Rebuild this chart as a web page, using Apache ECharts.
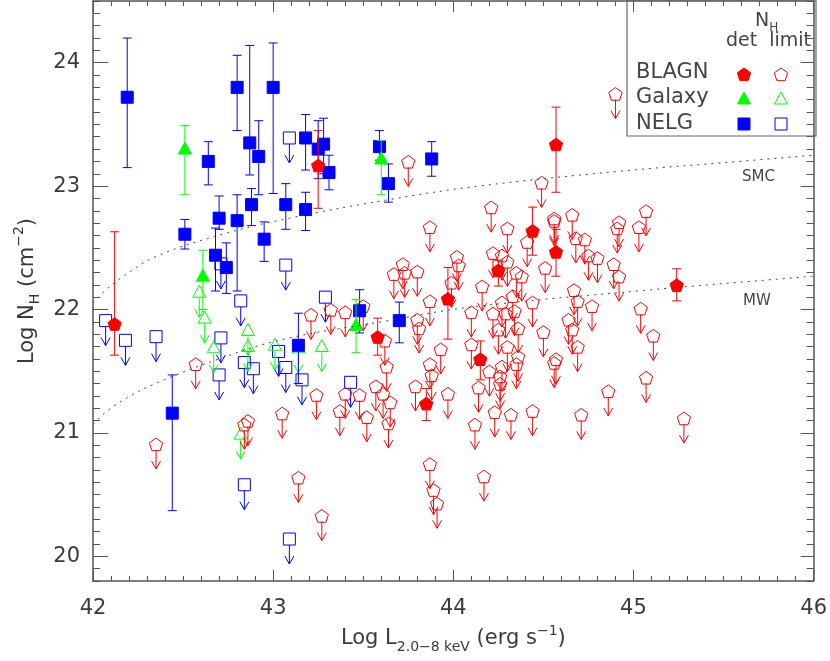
<!DOCTYPE html>
<html><head><meta charset="utf-8">
<script src="https://cdn.jsdelivr.net/npm/echarts@6/dist/echarts.min.js"></script>
<style>html,body{margin:0;padding:0;background:#fff}#c{width:830px;height:661px}</style>
</head><body><div id="c"></div>
<script>
// ---------- data ----------
// detections: [logL, logNH, low, high]
const blagnDet = [
  [42.12,21.885,21.63,22.63],[43.25,23.17,22.82,23.45],[43.58,21.78,21.63,21.93],
  [43.85,21.24,21.10,21.36],[43.97,22.09,21.76,22.34],[44.15,21.60,21.43,21.745],
  [44.25,22.32,22.19,22.40],[44.44,22.64,22.44,22.83],[44.57,23.34,22.95,23.64],
  [44.57,22.47,22.27,22.65],[45.24,22.20,22.07,22.33]
];
// upper limits: [logL, logNH]
const blagnLim = [
  [42.57,21.56],[42.35,20.91],[42.84,21.07],[42.86,21.10],[43.05,21.16],[43.75,23.20],
  [43.24,21.31],[43.40,21.32],[43.48,21.31],[43.37,21.18],[43.52,21.13],[43.57,21.38],
  [43.61,21.32],[43.65,21.25],[43.64,21.08],[43.79,21.38],[43.97,21.32],[44.12,21.07],
  [43.14,20.64],[43.27,20.33],[43.87,20.75],[43.89,20.54],[43.91,20.43],
  [43.87,22.67],[43.50,22.03],[43.21,21.96],[43.32,22.00],[43.40,21.98],[43.62,21.75],
  [43.63,21.54],[43.67,22.29],[43.72,22.37],[43.73,22.30],[43.80,22.31],[43.87,22.07],
  [43.80,21.92],[43.81,21.85],[43.93,21.68],[44.02,22.43],[44.03,22.36],[43.99,22.22],
  [44.10,21.98],[44.10,21.72],[43.87,21.56],[43.88,21.47],
  [44.90,23.75],[44.49,23.03],[44.21,22.83],[44.30,22.66],[44.56,22.74],[44.56,22.72],
  [44.66,22.77],[44.41,22.55],[44.68,22.58],[44.73,22.57],[44.92,22.71],[44.91,22.66],
  [45.03,22.67],[45.07,22.80],[44.22,22.46],[44.27,22.44],[44.30,22.39],[44.51,22.34],
  [44.75,22.44],[44.80,22.42],[44.89,22.37],[44.35,22.30],[44.38,22.27],[44.92,22.27],
  [44.16,22.19],[44.67,22.16],[44.69,22.07],[44.33,22.11],[44.27,22.06],[44.44,22.06],
  [44.22,21.97],[44.29,21.97],[44.34,21.99],[44.77,22.03],[45.04,22.01],[44.64,21.92],
  [44.25,21.84],[44.36,21.85],[44.66,21.84],[44.50,21.82],[44.30,21.70],[44.69,21.70],
  [44.36,21.62],[44.57,21.60],[44.56,21.57],[44.27,21.54],[44.35,21.56],[44.20,21.50],
  [44.26,21.46],[44.14,21.37],[44.26,21.40],[45.07,21.45],[44.86,21.34],[44.23,21.17],
  [44.32,21.15],[44.44,21.18],[44.71,21.15],[44.17,20.65],[45.11,21.79],[45.28,21.12]
];
const galDet = [
  [42.51,23.30,22.93,23.49],[42.61,22.27,22.00,22.48],[43.60,23.22,22.93,23.37],[43.46,21.87,21.65,22.08]
];
const galLim = [
  [42.59,22.14],[42.62,21.93],[42.86,21.83],[42.67,21.69],[42.86,21.70],[43.01,21.71],
  [43.14,21.69],[43.27,21.70],[42.82,20.99]
];
const nelgDet = [
  [42.19,23.72,23.15,24.20],[42.64,23.20,23.01,23.36],[42.80,23.80,23.45,24.06],
  [42.87,23.35,23.09,24.14],[42.92,23.24,22.93,23.53],[43.00,23.80,22.94,24.16],
  [43.18,23.39,23.13,23.58],[43.25,23.30,23.06,23.53],[43.28,23.34,23.10,23.55],
  [43.31,23.11,22.97,23.25],[43.59,23.32,23.21,23.45],[43.64,23.02,22.87,23.18],
  [43.88,23.22,23.08,23.36],[42.51,22.61,22.49,22.73],[42.70,22.74,22.65,22.92],
  [42.80,22.72,22.15,22.93],[42.88,22.85,22.68,22.98],[43.07,22.85,22.65,23.02],
  [42.95,22.57,22.39,22.71],[42.68,22.44,22.15,22.66],[42.74,22.34,22.13,22.54],
  [43.18,22.81,22.64,22.95],[43.48,21.99,21.81,22.16],[43.70,21.91,21.73,22.06],
  [43.14,21.71,21.40,21.97],[42.44,21.16,20.37,21.47]
];
const nelgLim = [
  [42.07,21.91],[42.18,21.75],[42.35,21.78],[42.71,22.37],[43.07,22.36],[42.82,22.07],
  [42.71,21.77],[43.03,21.66],[42.84,21.57],[42.89,21.52],[43.07,21.53],[42.70,21.47],
  [42.84,20.58],[43.09,20.14],[43.43,21.41],[43.29,22.10],[43.16,21.43],[43.09,23.39]
];
// dust column limit curves
const smcCurve = [
  [42.0,22.05],[42.08,22.17],[42.17,22.27],[42.35,22.43],[42.72,22.61],[43.09,22.74],
  [43.64,22.89],[44.14,23.0],[44.92,23.12],[45.5,23.19],[46.0,23.25]
];
const mwCurve = [
  [42.0,21.07],[42.08,21.18],[42.19,21.285],[42.33,21.39],[42.7,21.6],[43.06,21.76],
  [43.6,21.9],[44.1,22.02],[45.06,22.155],[45.5,22.21],[46.0,22.27]
];
const xTicks = [42,43,44,45,46];
const yTicks = [20,21,22,23,24];

// ---------- drawing ----------
const RED='#ff0000', BLUE='#0000ff', GREEN='#00ff00';
function shapeEl(kind, cx, cy, color, filled){
  const style = filled ? {fill:color, stroke:color, lineWidth:1} : {fill:'none', stroke:color, lineWidth:1};
  if(kind==='pent'){
    const r=7, pts=[];
    for(let k=0;k<5;k++){const a=-Math.PI/2+k*2*Math.PI/5; pts.push([cx+r*Math.cos(a), cy+1+r*Math.sin(a)]);}
    return {type:'polygon', shape:{points:pts}, style};
  }
  if(kind==='tri'){
    return {type:'polygon', shape:{points:[[cx,cy-7],[cx-6.5,cy+5],[cx+6.5,cy+5]]}, style};
  }
  return {type:'rect', shape:{x:cx-6, y:cy-6, width:12, height:12}, style};
}
function limItem(kind, color){
  return function(params, api){
    const p = api.coord([api.value(0), api.value(1)]);
    const cx=p[0], cy=p[1], tip=cy+25;
    const ls={stroke:color, lineWidth:1, fill:'none'};
    return {type:'group', children:[
      {type:'line', shape:{x1:cx,y1:cy+6,x2:cx,y2:tip}, style:ls},
      {type:'polyline', shape:{points:[[cx-4.5,tip-8],[cx,tip],[cx+4.5,tip-8]]}, style:ls},
      shapeEl(kind,cx,cy,color,false)
    ]};
  };
}
function detItem(kind, color){
  return function(params, api){
    const p = api.coord([api.value(0), api.value(1)]);
    const pl = api.coord([api.value(0), api.value(2)]);
    const ph = api.coord([api.value(0), api.value(3)]);
    const w=4.5, ls={stroke:color, lineWidth:1};
    return {type:'group', children:[
      {type:'line', shape:{x1:p[0],y1:ph[1],x2:p[0],y2:pl[1]}, style:ls},
      {type:'line', shape:{x1:p[0]-w,y1:ph[1],x2:p[0]+w,y2:ph[1]}, style:ls},
      {type:'line', shape:{x1:p[0]-w,y1:pl[1],x2:p[0]+w,y2:pl[1]}, style:ls},
      shapeEl(kind,p[0],p[1],color,true)
    ]};
  };
}
function customSeries(data, fn){
  return {type:'custom', data, renderItem:fn, encode:{x:0,y:1}, xAxisIndex:0, yAxisIndex:0, clip:true, silent:true, animation:false};
}
const AX='#555', LBL='#3a3a3a', FONT='DejaVu Sans';
const lblStyle = {color:LBL, fontSize:21, fontFamily:FONT};
const yMin=19.8, yMax=24.5;

const chart = echarts.init(document.getElementById('c'));
chart.setOption({
  animation:false,
  backgroundColor:'#fff',
  grid:{left:93, right:14, top:1, bottom:80},
  xAxis:[
    {type:'value', position:'bottom', min:42, max:46, interval:1,
     axisLine:{show:true, onZero:false, lineStyle:{color:AX, width:1.5}},
     axisTick:{show:true, inside:true, length:11, lineStyle:{color:AX}},
     minorTick:{show:true, splitNumber:10, length:5, lineStyle:{color:AX}},
     axisLabel:Object.assign({margin:17, customValues:xTicks}, lblStyle),
     splitLine:{show:false},
     name:'Log L{sub|2.0\u22128 keV} (erg s{sup|\u22121})', nameLocation:'middle', nameGap:40,
     nameTextStyle:{color:LBL, fontSize:21, fontFamily:FONT, lineHeight:30,
       rich:{sub:{fontSize:14, fontFamily:FONT, color:LBL, verticalAlign:'bottom', lineHeight:14},
             sup:{fontSize:14, fontFamily:FONT, color:LBL, verticalAlign:'top', lineHeight:14}}}},
    {type:'value', position:'top', min:42, max:46, interval:1,
     axisLine:{show:true, onZero:false, lineStyle:{color:AX, width:1.5}},
     axisTick:{show:true, inside:true, length:11, lineStyle:{color:AX}},
     minorTick:{show:true, splitNumber:10, length:5, lineStyle:{color:AX}},
     axisLabel:{show:false}, splitLine:{show:false}}
  ],
  yAxis:[
    {type:'value', position:'left', min:yMin, max:yMax,
     axisLine:{show:true, onZero:false, lineStyle:{color:AX, width:1.5}},
     axisTick:{show:true, inside:true, length:15, customValues:yTicks, lineStyle:{color:AX}},
     axisLabel:Object.assign({margin:13, customValues:yTicks}, lblStyle),
     splitLine:{show:false},
     name:'Log N{sub|H} (cm{sup|\u22122})', nameLocation:'middle', nameGap:50, nameRotate:90,
     nameTextStyle:{color:LBL, fontSize:21, fontFamily:FONT, lineHeight:30,
       rich:{sub:{fontSize:14, fontFamily:FONT, color:LBL, verticalAlign:'bottom', lineHeight:14},
             sup:{fontSize:14, fontFamily:FONT, color:LBL, verticalAlign:'top', lineHeight:14}}}},
    {type:'value', position:'left', min:yMin, max:yMax, interval:0.1,
     axisLine:{show:false, onZero:false}, axisTick:{show:true, inside:true, length:7, lineStyle:{color:AX}},
     axisLabel:{show:false}, splitLine:{show:false}},
    {type:'value', position:'right', min:yMin, max:yMax,
     axisLine:{show:true, onZero:false, lineStyle:{color:AX, width:1.5}},
     axisTick:{show:true, inside:true, length:13, customValues:yTicks, lineStyle:{color:AX}},
     axisLabel:{show:false}, splitLine:{show:false}},
    {type:'value', position:'right', min:yMin, max:yMax, interval:0.1,
     axisLine:{show:false, onZero:false}, axisTick:{show:true, inside:true, length:7, lineStyle:{color:AX}},
     axisLabel:{show:false}, splitLine:{show:false}}
  ],
  series:[
    {type:'line', data:smcCurve, smooth:0.4, symbol:'none', xAxisIndex:0, yAxisIndex:0,
     lineStyle:{color:'#444', width:1, type:[2,5]}, silent:true},
    {type:'line', data:mwCurve, smooth:0.4, symbol:'none', xAxisIndex:0, yAxisIndex:0,
     lineStyle:{color:'#444', width:1, type:[2,5]}, silent:true},
    customSeries(nelgLim, limItem('sq', BLUE)),
    customSeries(galLim, limItem('tri', GREEN)),
    customSeries(blagnLim, limItem('pent', RED)),
    customSeries(nelgDet, detItem('sq', BLUE)),
    customSeries(blagnDet, detItem('pent', RED)),
    customSeries(galDet, detItem('tri', GREEN))
  ],
  graphic:[
    {type:'text', left:742, top:170, style:{text:'SMC', fill:'#444', fontSize:15, fontFamily:FONT}},
    {type:'text', left:743, top:294, style:{text:'MW', fill:'#444', fontSize:15, fontFamily:FONT}},
    {type:'rect', shape:{x:627, y:0, width:189, height:136}, style:{fill:'none', stroke:'#666', lineWidth:1.2}},
    {type:'text', x:755, y:8, style:{text:'N{s|H}', fill:'#444', fontSize:19, fontFamily:FONT, lineHeight:26,
       rich:{s:{fontSize:12, fill:'#444', fontFamily:FONT, verticalAlign:'bottom', lineHeight:12}}}},
    {type:'text', x:726, y:32, style:{text:'det  limit', fill:'#444', fontSize:19, fontFamily:FONT}},
    {type:'text', x:636, y:62, style:{text:'BLAGN', fill:'#444', fontSize:21, fontFamily:FONT}},
    {type:'text', x:636, y:87, style:{text:'Galaxy', fill:'#444', fontSize:21, fontFamily:FONT}},
    {type:'text', x:636, y:113, style:{text:'NELG', fill:'#444', fontSize:21, fontFamily:FONT}},
    shapeEl('pent',744,74,RED,true),
    shapeEl('pent',781,74,RED,false),
    shapeEl('tri',744,99,GREEN,true),
    shapeEl('tri',781,99,GREEN,false),
    shapeEl('sq',744,124,BLUE,true),
    shapeEl('sq',781,124,BLUE,false)
  ]
});
</script></body></html>
